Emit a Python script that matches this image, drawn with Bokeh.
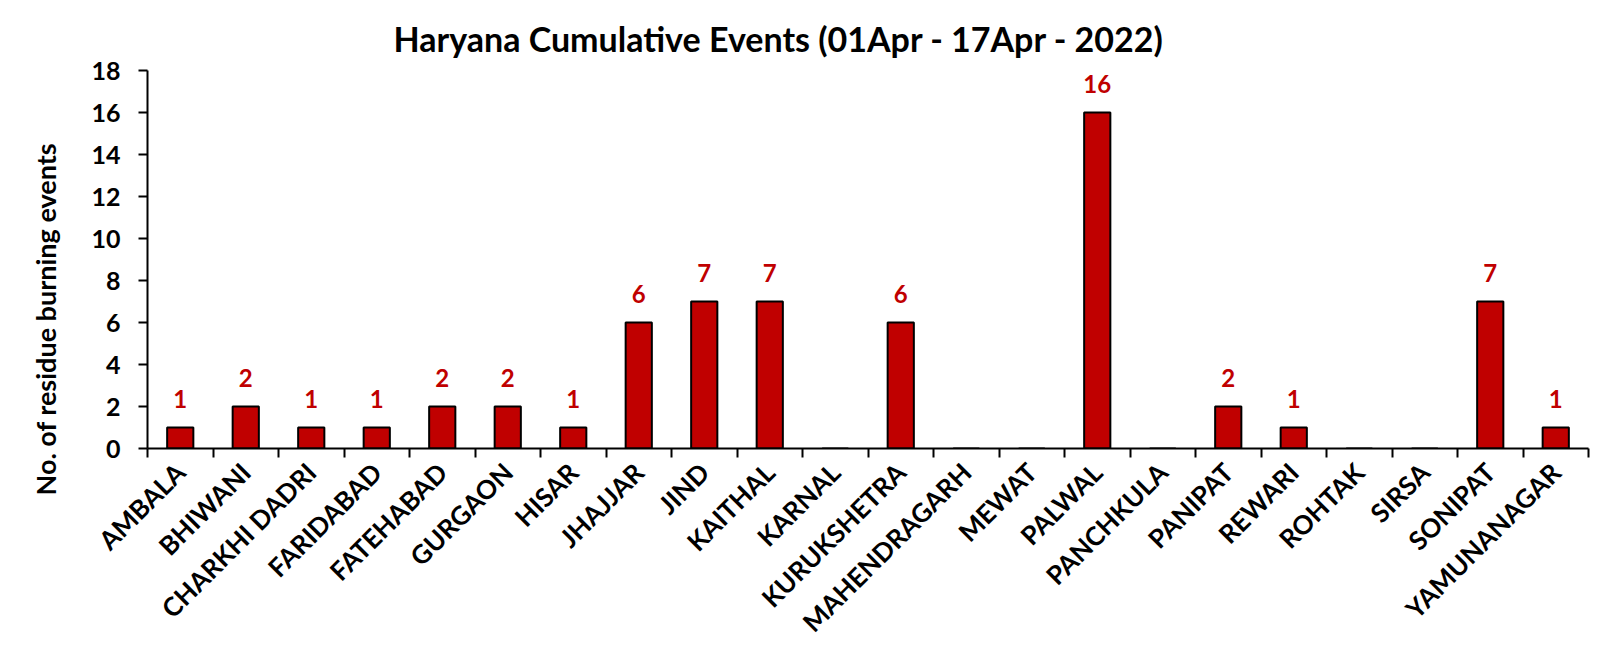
from bokeh.plotting import figure
from bokeh.models import ColumnDataSource, FixedTicker, Range1d, LabelSet, Title
from bokeh.core.properties import value
from bokeh.embed import file_html
from bokeh.resources import INLINE
import math

districts = ["AMBALA", "BHIWANI", "CHARKHI DADRI", "FARIDABAD", "FATEHABAD", "GURGAON",
             "HISAR", "JHAJJAR", "JIND", "KAITHAL", "KARNAL", "KURUKSHETRA",
             "MAHENDRAGARH", "MEWAT", "PALWAL", "PANCHKULA", "PANIPAT", "REWARI",
             "ROHTAK", "SIRSA", "SONIPAT", "YAMUNANAGAR"]
events = [1, 2, 1, 1, 2, 2, 1, 6, 7, 7, 0, 6, 0, 0, 16, 0, 2, 1, 0, 0, 7, 1]
y_ticks = [0, 2, 4, 6, 8, 10, 12, 14, 16, 18]

FONT = "Lato"
n = len(districts)
xs = [i + 0.5 for i in range(n)]
src = ColumnDataSource(dict(x=xs, top=events, name=districts))
lab_src = ColumnDataSource(dict(
    x=[x for x, v in zip(xs, events) if v > 0],
    y=[v for v in events if v > 0],
    t=[str(v) for v in events if v > 0]))

W, H = 1601, 657
FL, FR, FT, FB = 142, 1588, 70, 448
p = figure(width=W, height=H, output_backend="svg", toolbar_location=None,
           x_range=Range1d(0, n), y_range=Range1d(0, 18),
           min_border_left=FL, min_border_right=W - FR, min_border_top=FT,
           min_border_bottom=H - FB)
p.outline_line_color = None
p.border_fill_color = "white"
p.background_fill_color = "white"
p.grid.visible = False

p.title.text = "Haryana Cumulative Events (01Apr - 17Apr - 2022)"
p.title.text_font = FONT
p.title.text_font_size = "34px"
p.title.text_font_style = "bold"
p.title.align = "left"
p.title.offset = 388 - FL
p.title.standoff = 22
p.title.vertical_align = "middle"
p.title.text_color = "black"

p.vbar(x="x", top="top", bottom=0, width=0.4, source=src,
       fill_color="#C00000", line_color="black", line_width=2)

labels = LabelSet(x="x", y="y", text="t", source=lab_src, text_align="center",
                  text_baseline="alphabetic", y_offset=20, text_color="#C00000",
                  text_font=value(FONT), text_font_size="24px", text_font_style="bold")
p.add_layout(labels)

# y axis title as a side title, placed as in the reference
ytitle = Title(text="No. of residue burning events", align="left", offset=-47,
               text_font=FONT, text_font_size="27px", text_font_style="bold",
               text_color="black", standoff=53)
p.add_layout(ytitle, "left")

# y axis
ya = p.yaxis[0]
ya.ticker = FixedTicker(ticks=y_ticks)
ya.major_label_text_font = FONT
ya.major_label_text_font_size = "25px"
ya.major_label_text_font_style = "bold"
ya.major_label_text_color = "black"
ya.axis_line_width = 2
ya.major_tick_line_width = 2
ya.major_tick_out = 9
ya.major_tick_in = 0
ya.minor_tick_line_color = None
ya.major_label_standoff = 18

# x axis: labels at bar centres, tick marks at category boundaries
xa = p.xaxis[0]
xa.ticker = FixedTicker(ticks=xs, minor_ticks=list(range(n + 1)))
xa.major_label_overrides = {x: d for x, d in zip(xs, districts)}
xa.axis_line_width = 2
xa.major_tick_line_color = None
xa.minor_tick_line_color = "black"
xa.minor_tick_line_width = 2
xa.minor_tick_out = 9
xa.minor_tick_in = 0
xa.major_label_orientation = math.pi / 4
xa.major_label_text_font = FONT
xa.major_label_text_font_size = "26px"
xa.major_label_text_font_style = "bold"
xa.major_label_text_color = "black"
xa.major_label_standoff = 10

open("out.html", "w").write(file_html(p, INLINE))
